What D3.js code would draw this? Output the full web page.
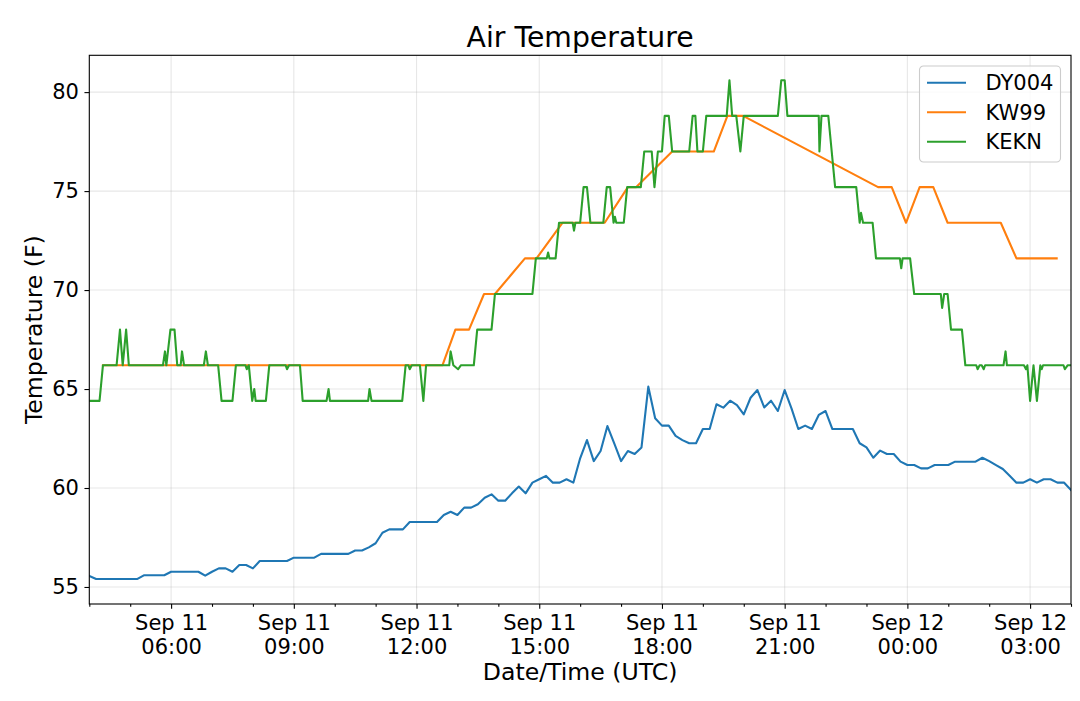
<!DOCTYPE html>
<html>
<head>
<meta charset="utf-8">
<script src="https://cdn.jsdelivr.net/npm/d3@7"></script>
<style>
  body { margin: 0; background: #fff; }
  text { font-family: "DejaVu Sans", sans-serif; fill: #000; }
</style>
</head>
<body>
<div id="chart"></div>
<script>
// Air temperature, Sep 11-12 (UTC). Times are "day HH:MM", values in F.

var dyTimes = ["11 04:00","11 04:10","11 05:10","11 05:20","11 05:50","11 06:00","11 06:40","11 06:50",
  "11 07:00","11 07:10","11 07:20","11 07:30","11 07:40","11 07:50","11 08:00","11 08:10","11 08:50",
  "11 09:00","11 09:30","11 09:40","11 10:20","11 10:30","11 10:40","11 10:50","11 11:00","11 11:10",
  "11 11:20","11 11:40","11 11:50","11 12:30","11 12:40","11 12:50","11 13:00","11 13:10","11 13:20",
  "11 13:30","11 13:40","11 13:50","11 14:00","11 14:10","11 14:20","11 14:30","11 14:40","11 14:50",
  "11 15:00","11 15:10","11 15:20","11 15:30","11 15:40","11 15:50","11 16:00","11 16:10","11 16:20",
  "11 16:30","11 16:40","11 16:50","11 17:00","11 17:10","11 17:20","11 17:30","11 17:40","11 17:50",
  "11 18:00","11 18:10","11 18:20","11 18:30","11 18:40","11 18:50","11 19:00","11 19:10","11 19:20",
  "11 19:30","11 19:40","11 19:50","11 20:00","11 20:10","11 20:20","11 20:30","11 20:40","11 20:50",
  "11 21:00","11 21:10","11 21:20","11 21:30","11 21:40","11 21:50","11 22:00","11 22:10","11 22:40",
  "11 22:50","11 23:00","11 23:10","11 23:20","11 23:30","11 23:40","11 23:50","12 00:00","12 00:10",
  "12 00:20","12 00:30","12 00:40","12 01:00","12 01:10","12 01:40","12 01:50","12 02:00","12 02:10",
  "12 02:20","12 02:30","12 02:40","12 02:50","12 03:00","12 03:10","12 03:20","12 03:30","12 03:40",
  "12 03:50","12 04:00"];
var dyTemps = [55.56,55.40,55.40,55.59,55.59,55.77,55.77,55.57,
  55.77,55.94,55.94,55.77,56.11,56.11,55.94,56.31,56.31,
  56.48,56.48,56.67,56.67,56.84,56.84,57.00,57.21,57.74,
  57.91,57.91,58.28,58.28,58.64,58.80,58.64,59.01,59.01,
  59.18,59.51,59.68,59.36,59.36,59.73,60.07,59.73,60.27,
  60.44,60.61,60.27,60.27,60.44,60.27,61.50,62.42,61.36,
  61.87,63.13,62.26,61.36,61.87,61.72,62.05,65.12,63.52,
  63.15,63.15,62.63,62.42,62.26,62.26,62.98,62.98,64.23,
  64.06,64.41,64.19,63.72,64.56,64.95,64.07,64.41,63.89,
  64.95,64.02,62.98,63.15,62.98,63.69,63.89,62.98,62.98,
  62.26,62.05,61.53,61.89,61.72,61.72,61.33,61.16,61.16,
  60.99,60.99,61.16,61.16,61.33,61.33,61.53,61.36,61.16,
  60.96,60.62,60.27,60.27,60.44,60.27,60.44,60.44,60.27,
  60.27,59.90];

var kwTimes = ["11 04:20","11 12:38","11 12:57","11 13:17","11 13:39","11 13:55","11 14:39","11 14:56",
  "11 15:34","11 16:36","11 17:10","11 17:22","11 18:15","11 19:16","11 19:36","11 19:59","11 23:17",
  "11 23:37","11 23:58","12 00:18","12 00:38","12 00:59","12 02:17","12 02:40","12 03:39"];
var kwTemps = [66.2,66.2,68.0,68.0,69.8,69.8,71.6,71.6,
  73.4,73.4,75.2,75.2,77.0,77.0,78.8,78.8,75.2,
  75.2,73.4,75.2,75.2,73.4,73.4,71.6,71.6];

var keknTimes = ["11 04:00","11 04:15","11 04:20","11 04:40","11 04:45","11 04:49","11 04:54","11 04:58",
  "11 05:48","11 05:51","11 05:53","11 05:59","11 06:05","11 06:09","11 06:14","11 06:16","11 06:19",
  "11 06:48","11 06:51","11 06:54","11 07:09","11 07:14","11 07:30","11 07:35","11 07:49","11 07:51",
  "11 07:54","11 07:59","11 08:02","11 08:04","11 08:19","11 08:24","11 08:48","11 08:50","11 08:53",
  "11 09:09","11 09:13","11 09:48","11 09:51","11 09:53","11 10:49","11 10:51","11 10:54","11 11:39",
  "11 11:44","11 11:48","11 11:50","11 11:53","11 12:05","11 12:10","11 12:14","11 12:48","11 12:50",
  "11 12:54","11 13:01","11 13:05","11 13:24","11 13:29","11 13:50","11 13:55","11 14:50","11 14:55",
  "11 15:11","11 15:13","11 15:15","11 15:24","11 15:29","11 15:49","11 15:51","11 15:53","11 16:00",
  "11 16:05","11 16:10","11 16:15","11 16:34","11 16:39","11 16:44","11 16:49","11 16:51","11 16:53",
  "11 17:04","11 17:09","11 17:29","11 17:34","11 17:45","11 17:49","11 17:54","11 18:00","11 18:04",
  "11 18:10","11 18:15","11 18:40","11 18:45","11 18:49","11 18:52","11 19:00","11 19:05","11 19:35",
  "11 19:39","11 19:43","11 19:49","11 19:55","11 20:00","11 20:50","11 20:55","11 21:00","11 21:04",
  "11 21:50","11 21:51","11 21:54","11 22:04","11 22:09","11 22:14","11 22:45","11 22:50","11 22:52",
  "11 22:55","11 23:09","11 23:14","11 23:49","11 23:51","11 23:53","12 00:04","12 00:10","12 00:49",
  "12 00:51","12 00:54","12 00:59","12 01:04","12 01:20","12 01:25","12 01:41","12 01:43","12 01:46",
  "12 01:49","12 01:52","12 01:54","12 02:21","12 02:24","12 02:26","12 02:51","12 02:54","12 02:56",
  "12 03:00","12 03:05","12 03:10","12 03:15","12 03:17","12 03:19","12 03:49","12 03:51","12 03:55",
  "12 04:00"];
var keknTemps = [64.4,64.4,66.2,66.2,68.0,66.2,68.0,66.2,
  66.2,66.9,66.2,68.0,68.0,66.2,66.2,66.9,66.2,
  66.2,66.9,66.2,66.2,64.4,64.4,66.2,66.2,66.0,
  66.2,64.4,65.0,64.4,64.4,66.2,66.2,66.0,66.2,
  66.2,64.4,64.4,65.0,64.4,64.4,65.0,64.4,64.4,
  66.2,66.2,66.0,66.2,66.2,64.4,66.2,66.2,66.9,
  66.2,66.0,66.2,66.2,68.0,68.0,69.8,69.8,71.6,
  71.6,71.9,71.6,71.6,73.4,73.4,73.0,73.4,73.4,
  75.2,75.2,73.4,73.4,75.2,75.2,73.4,73.7,73.4,
  73.4,75.2,75.2,77.0,77.0,75.2,77.0,77.0,78.8,
  78.8,77.0,77.0,78.8,78.8,77.0,77.0,78.8,78.8,
  80.6,78.8,78.8,77.0,78.8,78.8,80.6,80.6,78.8,
  78.8,77.0,78.8,78.8,77.0,75.2,75.2,73.4,73.9,
  73.4,73.4,71.6,71.6,71.1,71.6,71.6,69.8,69.8,
  69.1,69.8,69.8,68.0,68.0,66.2,66.2,66.0,66.2,
  66.2,66.0,66.2,66.2,66.9,66.2,66.2,66.0,66.2,
  64.4,66.2,64.4,66.2,66.0,66.2,66.2,66.0,66.2,
  66.2];

var seriesNames = ["DY004", "KW99", "KEKN"];
var seriesColors = ["#1f77b4", "#ff7f0e", "#2ca02c"];

var parseTime = function(s) { return d3.utcParse("%Y-%m-%d %H:%M")("2018-09-" + s); };
var zip = function(times, temps) {
  return times.map(function(t, i) { return {t: parseTime(t), v: temps[i]}; });
};
var series = [zip(dyTimes, dyTemps), zip(kwTimes, kwTemps), zip(keknTimes, keknTemps)];

var width = 1080, height = 701;
var margin = {top: 55.3, right: 9, bottom: 97, left: 89.3};
var plotW = width - margin.left - margin.right;
var plotH = height - margin.top - margin.bottom;
var tickFont = 21, labelFont = 23.6;

var svg = d3.select("#chart").append("svg")
  .attr("width", width).attr("height", height);
svg.append("rect").attr("width", width).attr("height", height).attr("fill", "#fff");

// scales (y padded 5% like the original)
var all = dyTemps.concat(kwTemps, keknTemps);
var ext = d3.extent(all), pad = (ext[1] - ext[0]) * 0.05;
var x = d3.scaleUtc()
  .domain([parseTime("11 04:00"), parseTime("12 04:00")])
  .range([0, plotW]);
var y = d3.scaleLinear()
  .domain([ext[0] - pad, ext[1] + pad])
  .range([plotH, 0]);

var plot = svg.append("g")
  .attr("transform", "translate(" + margin.left + "," + margin.top + ")");

var majorTicks = x.ticks(d3.utcHour.every(3));
var minorTicks = x.ticks(d3.utcHour.every(1)).filter(function(d) { return d.getUTCHours() % 3 !== 0; });
var yTicks = y.ticks(6);

// grid
plot.append("g").selectAll("line").data(majorTicks).enter().append("line")
  .attr("x1", x).attr("x2", x).attr("y1", 0).attr("y2", plotH)
  .attr("stroke", "#b0b0b0").attr("stroke-opacity", 0.3).attr("stroke-width", 1.1);
plot.append("g").selectAll("line").data(yTicks).enter().append("line")
  .attr("x1", 0).attr("x2", plotW).attr("y1", y).attr("y2", y)
  .attr("stroke", "#b0b0b0").attr("stroke-opacity", 0.3).attr("stroke-width", 1.1);

// lines
plot.append("clipPath").attr("id", "clip").append("rect")
  .attr("width", plotW).attr("height", plotH);
var line = d3.line().x(function(d) { return x(d.t); }).y(function(d) { return y(d.v); });
plot.append("g").attr("clip-path", "url(#clip)")
  .selectAll("path").data(series).enter().append("path")
  .attr("d", line)
  .attr("fill", "none")
  .attr("stroke", function(d, i) { return seriesColors[i]; })
  .attr("stroke-width", 2.1)
  .attr("stroke-linejoin", "round")
  .attr("stroke-linecap", "square");

// x axis: minor hourly ticks, major every 3h with two-line labels
var xMinor = plot.append("g").attr("transform", "translate(0," + plotH + ")")
  .call(d3.axisBottom(x).tickValues(minorTicks).tickSize(2.8).tickSizeOuter(0).tickFormat(""));
var xAxis = plot.append("g").attr("transform", "translate(0," + plotH + ")")
  .call(d3.axisBottom(x).tickValues(majorTicks).tickSize(4.85).tickSizeOuter(0).tickFormat(""));
xAxis.selectAll(".tick").append("text")
  .attr("text-anchor", "middle")
  .style("font-size", tickFont + "px")
  .each(function(d) {
    var t = d3.select(this);
    t.append("tspan").attr("x", 0).attr("y", 26).text(d3.utcFormat("%b %d")(d));
    t.append("tspan").attr("x", 0).attr("y", 49.5).text(d3.utcFormat("%H:%M")(d));
  });

var yAxis = plot.append("g")
  .call(d3.axisLeft(y).tickValues(yTicks).tickSize(4.85).tickPadding(5.5).tickSizeOuter(0));
yAxis.selectAll("text").style("font-size", tickFont + "px").attr("fill", "#000");

[xMinor, xAxis, yAxis].forEach(function(g) {
  g.select(".domain").remove();
  g.selectAll("line").attr("stroke", "#000").attr("stroke-width", 1.1);
});

// frame
plot.append("rect").attr("width", plotW).attr("height", plotH)
  .attr("fill", "none").attr("stroke", "#000").attr("stroke-width", 1.1);

// titles
svg.append("text").attr("x", margin.left + plotW / 2).attr("y", 47)
  .attr("text-anchor", "middle").style("font-size", "28.3px").text("Air Temperature");
svg.append("text").attr("x", margin.left + plotW / 2).attr("y", 680)
  .attr("text-anchor", "middle").style("font-size", labelFont + "px").text("Date/Time (UTC)");
svg.append("text")
  .attr("transform", "translate(42," + (margin.top + plotH / 2) + ") rotate(-90)")
  .attr("text-anchor", "middle").style("font-size", labelFont + "px").text("Temperature (F)");

// legend
var legend = svg.append("g").attr("transform", "translate(919.5,66)");
legend.append("rect").attr("width", 141).attr("height", 96).attr("rx", 4)
  .attr("fill", "#fff").attr("fill-opacity", 0.8)
  .attr("stroke", "#cccccc").attr("stroke-width", 1.1);
var items = legend.selectAll(".item").data(seriesNames).enter().append("g")
  .attr("transform", function(d, i) { return "translate(0," + (16.7 + i * 29.5) + ")"; });
items.append("line").attr("x1", 7.5).attr("x2", 46.5)
  .attr("stroke", function(d, i) { return seriesColors[i]; }).attr("stroke-width", 2.1);
items.append("text").attr("x", 66).attr("dy", "0.36em")
  .style("font-size", tickFont + "px").text(function(d) { return d; });
</script>
</body>
</html>
